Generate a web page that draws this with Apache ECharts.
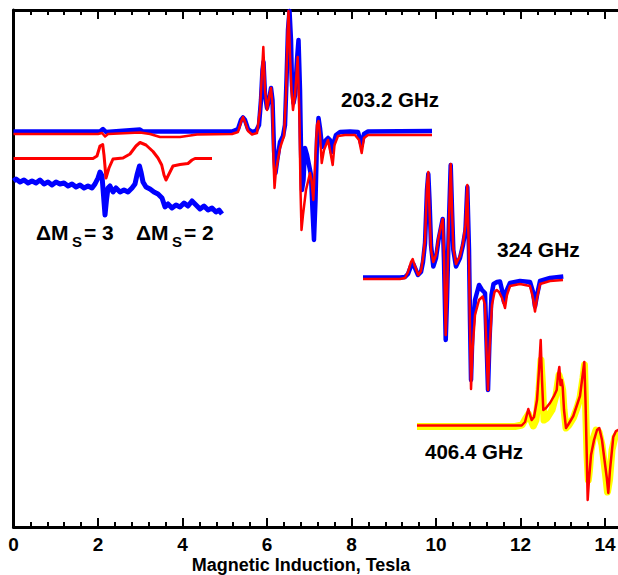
<!DOCTYPE html>
<html><head><meta charset="utf-8">
<script src="https://cdn.jsdelivr.net/npm/echarts@6/dist/echarts.min.js"></script>
<style>html,body{margin:0;padding:0;background:#fff}#c{width:618px;height:575px}</style>
</head><body><div id="c"></div>
<script>
// Field in Tesla, signal in arbitrary (offset) units
const exp203 = [[0,395.5],[2.047,395.5],[2.118,398],[2.189,395],[2.994,397.5],[3.065,395.5],[5.172,395.5],[5.314,398],[5.385,407],[5.432,409.5],[5.479,407],[5.550,398],[5.645,395],[5.740,396],[5.811,402],[5.858,427],[5.893,457],[5.917,465],[5.953,432],[6.000,419],[6.047,427],[6.095,439],[6.130,427],[6.166,377],[6.201,354],[6.249,369],[6.308,385],[6.379,391],[6.426,402],[6.462,447],[6.497,497],[6.533,516],[6.568,487],[6.592,442],[6.627,424],[6.663,432],[6.710,467],[6.746,487],[6.781,437],[6.805,377],[6.828,337],[6.864,347],[6.899,379],[6.947,372],[6.994,362],[7.041,352],[7.077,317],[7.112,287],[7.148,327],[7.183,387],[7.219,409],[7.254,399],[7.302,380],[7.349,384],[7.396,387],[7.444,389],[7.491,387],[7.527,375],[7.562,382],[7.633,392],[7.728,395],[7.964,395.5],[8.154,395],[8.237,382],[8.296,393],[8.391,395.5],[9.905,396]];
const sim203 = [[0,393],[2.000,393],[2.095,394],[2.166,390.5],[2.237,393],[2.994,394.5],[3.231,393],[3.467,390],[3.941,390],[4.343,392.5],[5.172,393],[5.314,395],[5.385,405],[5.432,410],[5.479,405],[5.550,396],[5.645,392.5],[5.763,394],[5.834,417],[5.913,480],[5.953,437],[6.000,417],[6.047,429],[6.095,439],[6.130,422],[6.154,367],[6.178,339],[6.213,357],[6.308,379],[6.402,391],[6.450,432],[6.485,492],[6.509,516],[6.544,472],[6.580,437],[6.615,417],[6.663,432],[6.727,470],[6.769,407],[6.793,337],[6.817,297],[6.852,312],[6.923,337],[7.018,354],[7.053,347],[7.096,327],[7.136,362],[7.183,402],[7.219,406],[7.254,392],[7.295,364],[7.349,377],[7.444,387],[7.491,377],[7.555,362],[7.598,382],[7.680,391],[7.846,392],[8.083,392],[8.178,387],[8.241,374],[8.296,389],[8.391,392],[9.905,392]];
const simHalf = [[0,368.5],[1.882,368.5],[1.976,371],[2.047,381],[2.111,382.5],[2.142,372],[2.189,349],[2.260,359],[2.355,368],[2.592,369],[2.757,373],[2.899,381],[2.994,384.5],[3.136,382],[3.302,375.5],[3.420,369],[3.508,362],[3.562,352],[3.609,347],[3.680,353],[3.775,361],[3.941,362.5],[4.130,363.5],[4.225,367],[4.296,368.5],[4.698,368.5]];
const expHalf = [[0,346],[0.059,348],[0.154,345],[0.249,347],[0.343,344],[0.438,346],[0.533,344],[0.627,347],[0.722,343],[0.817,345],[0.911,342],[1.006,345],[1.101,343],[1.195,344],[1.290,341],[1.385,343],[1.479,340],[1.574,342],[1.669,339],[1.763,341],[1.858,339],[1.929,343],[2.000,349],[2.047,355],[2.095,351],[2.130,332],[2.166,312],[2.201,327],[2.237,339],[2.284,341],[2.355,335],[2.426,339],[2.521,335],[2.615,337],[2.710,335],[2.805,339],[2.876,343],[2.923,352],[2.982,361],[3.018,355],[3.065,345],[3.136,340],[3.231,338],[3.325,335],[3.420,333],[3.515,329],[3.586,320],[3.657,323],[3.751,319],[3.846,322],[3.941,320],[4.036,324],[4.130,321],[4.225,326],[4.320,322],[4.414,318],[4.509,321],[4.604,317],[4.698,319],[4.793,315],[4.864,317],[4.935,313]];
const exp324 = [[8.272,249.5],[9.148,249.5],[9.266,250],[9.337,253],[9.408,261],[9.463,263],[9.503,259],[9.574,252],[9.645,255],[9.692,265],[9.740,284],[9.787,337],[9.818,353],[9.846,327],[9.882,282],[9.936,260.5],[10.000,269],[10.059,287],[10.107,297],[10.159,308],[10.189,267],[10.230,187],[10.260,227],[10.308,307],[10.348,362],[10.379,317],[10.410,277],[10.473,260.5],[10.568,269],[10.639,282],[10.698,297],[10.741,340],[10.781,277],[10.805,207],[10.829,147],[10.864,197],[10.923,227],[11.018,242],[11.089,237],[11.160,234],[11.195,187],[11.231,137],[11.266,187],[11.314,232],[11.361,243],[11.444,245],[11.515,245.5],[11.562,237],[11.609,225],[11.657,235],[11.751,244],[11.988,246],[12.225,245],[12.296,235],[12.343,220.5],[12.391,232],[12.462,246],[12.698,249],[13.013,250.5]];
const sim324 = [[8.272,248],[9.148,248],[9.266,249],[9.337,255],[9.408,265],[9.448,268],[9.491,262],[9.581,252],[9.645,256],[9.692,269],[9.740,287],[9.787,342],[9.818,355],[9.846,317],[9.882,277],[9.936,265],[10.000,272],[10.059,289],[10.107,299],[10.159,308],[10.189,272],[10.230,192],[10.260,232],[10.308,309],[10.348,363],[10.379,317],[10.410,279],[10.473,263],[10.568,271],[10.639,284],[10.698,302],[10.741,342],[10.781,267],[10.805,197],[10.829,138],[10.864,177],[10.923,212],[11.018,227],[11.105,230.5],[11.160,222],[11.195,177],[11.231,137],[11.266,177],[11.325,222],[11.385,235],[11.437,237],[11.491,235],[11.562,229],[11.633,219],[11.680,232],[11.751,241],[11.988,243],[12.225,241],[12.296,229],[12.343,215.5],[12.391,229],[12.462,243],[12.698,246],[13.006,247]];
const exp406 = [[9.550,100.5],[11.870,100.5],[12.036,102],[12.130,109],[12.189,113],[12.249,107],[12.303,101],[12.367,107],[12.438,137],[12.485,167],[12.521,142],[12.556,107],[12.627,109],[12.746,117],[12.840,132],[12.911,152],[12.947,147],[12.999,137],[13.030,117],[13.077,99],[13.148,102],[13.250,109],[13.337,119],[13.408,129],[13.479,149],[13.515,162],[13.550,107],[13.574,72],[13.605,47],[13.633,57],[13.669,77],[13.723,89],[13.787,97],[13.858,95],[13.929,82],[14.000,57],[14.059,35],[14.107,47],[14.166,77],[14.237,90],[14.308,94],[14.4,95]];
const sim406 = [[9.550,101.5],[12.028,101.5],[12.107,105],[12.185,118],[12.225,112],[12.265,107],[12.320,110],[12.391,127],[12.438,157],[12.478,187],[12.509,147],[12.540,117],[12.604,119],[12.698,124],[12.793,131],[12.857,137],[12.888,152],[12.919,160],[12.947,142],[12.975,147],[12.999,140],[13.030,117],[13.077,99],[13.124,102],[13.195,107],[13.250,111],[13.337,122],[13.408,131],[13.456,147],[13.510,165],[13.538,127],[13.567,74],[13.590,27],[13.621,47],[13.669,72],[13.740,87],[13.811,97],[13.865,99],[13.929,87],[13.988,67],[14.040,50],[14.078,34],[14.118,57],[14.196,90],[14.260,96],[14.308,97],[14.4,98]];

const freqLabels = ['203.2 GHz', '324 GHz', '406.4 GHz'];
const msLabels = [['ΔM', 'S', '= 3'], ['ΔM', 'S', '= 2']];
const axisTitle = 'Magnetic Induction, Tesla';
const lastTickLabel = 14;

const FONT = '"Liberation Sans", Arial, Helvetica, sans-serif';
const chart = echarts.init(document.getElementById('c'), null, {renderer: 'svg'});

function line(data, color, width, z) {
  return {type: 'line', data: data, symbol: 'none', showSymbol: false, silent: true,
    lineStyle: {color: color, width: width, join: 'round'}, z: z, animation: false, clip: true};
}
const axisCommon = {
  type: 'value', min: 0, max: 16, interval: 2,
  axisLine: {show: true, lineStyle: {color: '#000', width: 3}},
  axisTick: {show: true, inside: true, length: 9, lineStyle: {color: '#000', width: 2}},
  minorTick: {show: true, splitNumber: 5, length: 5, lineStyle: {color: '#000', width: 2}},
  splitLine: {show: false}, minorSplitLine: {show: false}
};
function txt(text, x, y, size, align) {
  return {type: 'text', x: x, y: y, silent: true,
    style: {text: text, fill: '#000', font: 'bold ' + size + 'px ' + FONT,
      fontSize: size, fontWeight: 'bold', fontFamily: FONT,
      align: align || 'left', textAlign: align || 'left', verticalAlign: 'middle', textVerticalAlign: 'middle'}};
}
const graphics = [
  txt(freqLabels[0], 341, 99, 20.5),
  txt(freqLabels[1], 497, 249.5, 21),
  txt(freqLabels[2], 425, 451, 20.5),
  txt(msLabels[0][0], 36, 232, 21), txt(msLabels[0][1], 72, 241, 15), txt(msLabels[0][2], 84, 232, 21),
  txt(msLabels[1][0], 136, 232, 21), txt(msLabels[1][1], 172, 241, 15), txt(msLabels[1][2], 184, 232, 21),
  txt(axisTitle, 301, 565, 18, 'center')
];

chart.setOption({
  animation: false,
  backgroundColor: '#fff',
  grid: {left: 13.5, top: 10, right: -71.5, bottom: 48, containLabel: false, outerBoundsMode: 'none'},
  xAxis: [
    Object.assign({}, axisCommon, {position: 'bottom',
      axisLabel: {show: true, margin: 8, color: '#000', fontSize: 19, fontWeight: 'bold', fontFamily: FONT,
        showMinLabel: true, showMaxLabel: false,
        formatter: function (v) { return v > lastTickLabel ? '' : String(v); }}}),
    Object.assign({}, axisCommon, {position: 'top', axisLabel: {show: false}})
  ],
  yAxis: {type: 'value', min: 0, max: 517,
    axisLine: {show: true, lineStyle: {color: '#000', width: 3}},
    axisTick: {show: false}, axisLabel: {show: false}, splitLine: {show: false}},
  series: [
    line(expHalf, '#0000ff', 5, 2),
    line(simHalf, '#ff0000', 3, 3),
    line(exp203, '#0000ff', 4.5, 2),
    line(sim203, '#ff0000', 2.5, 3),
    line(exp324, '#0000ff', 4.5, 2),
    line(sim324, '#ff0000', 2.5, 3),
    line(exp406, '#ffff00', 7, 2),
    line(sim406, '#ff0000', 2.5, 3)
  ],
  graphic: graphics
});
</script></body></html>
